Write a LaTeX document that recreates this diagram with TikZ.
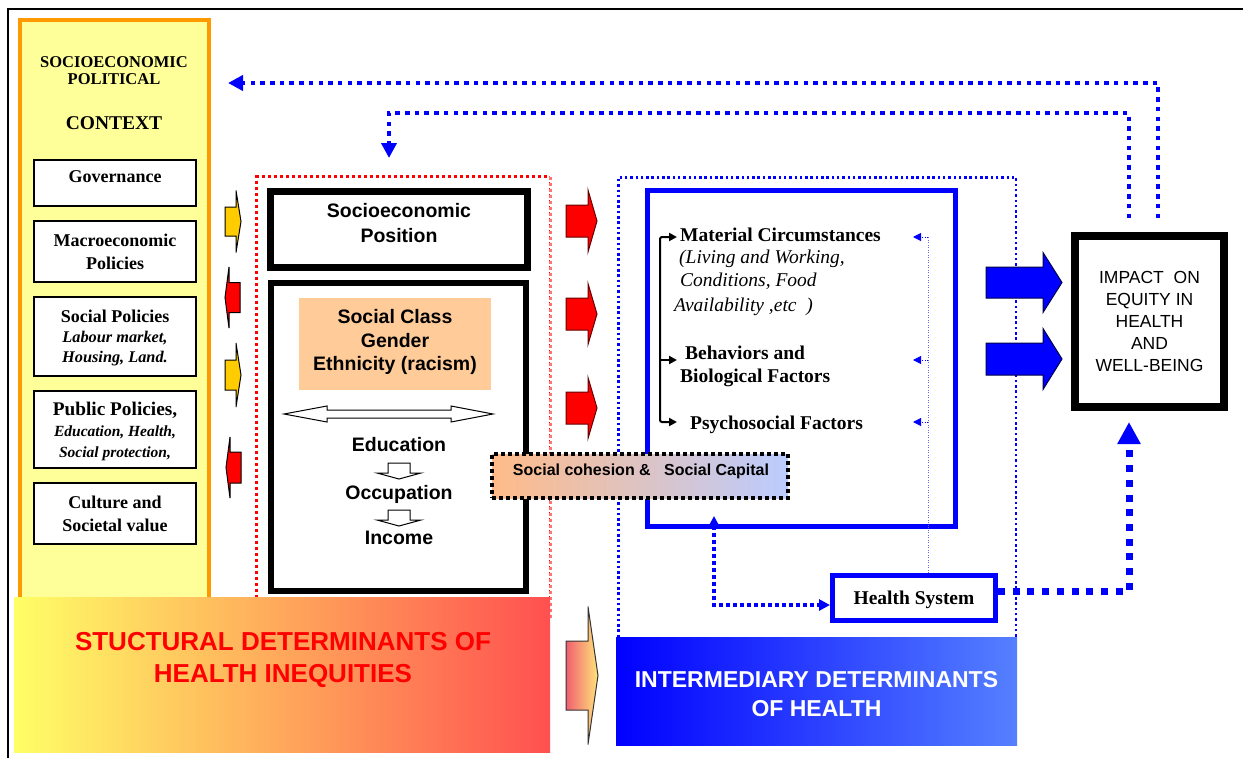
\documentclass[tikz,border=0pt]{standalone}
\usepackage{fontspec}
\setmainfont{Liberation Serif}
\newfontfamily\ari{Liberation Sans}
\usetikzlibrary{arrows.meta,calc}

\definecolor{ctxyellow}{HTML}{FFFF99}
\definecolor{ctxorange}{HTML}{FF9900}
\definecolor{arrowyellow}{HTML}{FFCC00}
\definecolor{peach}{HTML}{FFCC99}
\definecolor{strleft}{HTML}{FFFF66}
\definecolor{strright}{HTML}{FF5050}
\definecolor{intleft}{HTML}{0000FF}
\definecolor{intright}{HTML}{5580FF}
\definecolor{cohleft}{HTML}{FFBB88}
\definecolor{cohright}{HTML}{BBCCFF}
\definecolor{garrleft}{HTML}{F06070}
\definecolor{garrright}{HTML}{FFE47A}

\newcommand\fs[2]{\fontsize{#1}{#2}\selectfont}
% block arrow: [style]{x0}{x head base}{x tip}{y centre}{half body}{half head}
\newcommand\blkarrow[7][]{%
  \draw[#1] (#2,#5-#6) -- (#3,#5-#6) -- (#3,#5-#7) -- (#4,#5) -- (#3,#5+#7) -- (#3,#5+#6) -- (#2,#5+#6) -- cycle;}

\tikzset{
  ctxbox/.style={draw=black, line width=1.5pt, fill=white, minimum width=162pt, inner sep=0pt,
    align=center, text depth=0pt, font=\bfseries\fs{18}{21}},
  ctxtxt/.style={align=center, text depth=0pt, inner sep=0pt, font=\bfseries\fs{18}{21}},
  thickbox/.style={draw=black, line width=7pt, fill=white, inner sep=0pt},
  sanstxt/.style={align=center, font=\ari\bfseries\fs{19.5}{24}, text depth=0pt, inner sep=0pt},
  mattxt/.style={anchor=base west, inner sep=0pt, font=\bfseries\fs{19.5}{23}},
  matit/.style={anchor=base west, inner sep=0pt, font=\itshape\fs{19.5}{23}},
  ylarrow/.style={fill=arrowyellow, draw=black, line width=1pt},
  rdsarrow/.style={fill=red, draw=black, line width=1pt},
  redarrow/.style={fill=red, draw=black!60!red, line width=1pt},
  bluearrow/.style={fill=blue, draw=black!70!blue, line width=1pt},
  gradarrow/.style={left color=garrleft, right color=garrright, draw=black!80, line width=1pt},
  fbdot/.style={draw=blue, line width=4pt, dash pattern=on 4.5pt off 5.2pt},
  bigdot/.style={draw=blue, line width=7pt, dash pattern=on 7pt off 7.7pt},
  meddot/.style={draw=blue, line width=3.5pt, dash pattern=on 3.5pt off 3.5pt},
  thindot/.style={draw=blue!60, line width=1pt, dash pattern=on 1pt off 1.5pt},
  brk/.style={draw=black, line width=2pt},
  hollow/.style={fill=white, draw=black, line width=1pt}
}

\begin{document}
\begin{tikzpicture}[x=1pt,y=-1pt]
\useasboundingbox (0,0) rectangle (1243,758);
\fill[white] (0,0) rectangle (1243,758);

% outer frame
\draw[line width=2pt] (8,758) -- (8,9) -- (1243,9);

% context column
\node[draw=ctxorange, line width=4pt, fill=ctxyellow, minimum width=189pt, minimum height=590pt, inner sep=0pt] (ctx) at (114.5,315) {};
\node[ctxtxt, font=\bfseries\fs{16.5}{17}] (ctxt1) at (114,71) {SOCIOECONOMIC\\POLITICAL};
\node[ctxtxt, font=\bfseries\fs{19.5}{20}] (ctxt2) at (114,123) {CONTEXT};

\node[ctxbox, minimum height=46pt] (gov) at (115,183) {};
\node[ctxtxt] (govtxt) at (115,177) {Governance};
\node[ctxbox, minimum height=61pt, font=\bfseries\fs{18}{23}] (macro) at (115,251.5) {Macroeconomic\\Policies};
\node[ctxbox, minimum height=79pt, font=\bfseries\itshape\fs{16.3}{20}] (socpol) at (115,336.5)
  {{\upshape\fs{18}{20}Social Policies}\\Labour market,\\Housing, Land.};
\node[ctxbox, minimum height=77pt, font=\bfseries\itshape\fs{15.5}{21}] (pubpol) at (115,429.5)
  {{\upshape\fs{19.3}{21}Public Policies,}\\Education, Health,\\Social protection,};
\node[ctxbox, minimum height=61pt, font=\bfseries\fs{18}{23}] (cult) at (115,513.5) {Culture and\\Societal value};

% small arrows between context and structural block
\blkarrow[ylarrow]{225}{236}{241}{221.5}{14.5}{31}
\blkarrow[rdsarrow]{240}{229}{225}{297.5}{15}{30.5}
\blkarrow[ylarrow]{225}{236}{241}{375}{15}{32}
\blkarrow[rdsarrow]{241}{230}{226}{467.5}{15.5}{30.5}

% structural (socioeconomic position) block
\node[draw=red, line width=3pt, dash pattern=on 3pt off 3pt, minimum width=294pt, minimum height=440pt, inner sep=0pt] (sbox) at (403.5,396.5) {};
\draw[white, line width=3.5pt] (sbox.north east) -- (sbox.south east);
\draw[red!55, line width=3pt, dash pattern=on 3pt off 3pt] ($(sbox.north east)+(-1.5,1.5)$) -- ($(sbox.south east)+(-1.5,0)$);
\node[thickbox, minimum width=257pt, minimum height=76pt] (sep) at (399,229.5) {};
\node[sanstxt, font=\ari\bfseries\fs{19.5}{25}] (septxt) at (399,223) {Socioeconomic\\Position};
\node[thickbox, line width=6pt, minimum width=255pt, minimum height=308pt] (spos) at (398.5,437) {};
\node[fill=peach, minimum width=192pt, minimum height=92pt, inner sep=0pt] (scg) at (395,344) {};
\node[sanstxt, font=\ari\bfseries\fs{19.5}{23.5}] (scgtxt) at (395,340) {Social Class\\Gender\\Ethnicity (racism)};
\draw[hollow] (284,414) -- (327,406) -- (327,410) -- (451,410) -- (451,406) -- (493,414)
  -- (451,422) -- (451,418) -- (327,418) -- (327,422) -- cycle;
\node[sanstxt] (edu) at (399,444) {Education};
\node[sanstxt] (occ) at (399,492) {Occupation};
\node[sanstxt] (inc) at (399,538) {Income};
\draw[hollow] (388,463) -- (410,463) -- (410,473) -- (421,473) -- (399,479) -- (377,473) -- (388,473) -- cycle;
\draw[hollow] (388,510) -- (410,510) -- (410,520) -- (421,520) -- (399,526) -- (377,520) -- (388,520) -- cycle;

% red arrows to intermediary block
\blkarrow[redarrow]{566}{588}{597}{221}{16}{31}
\blkarrow[redarrow]{566}{588}{597}{314}{16}{30.5}
\blkarrow[redarrow]{566}{588}{597}{408}{16}{30.5}

% intermediary block
\node[draw=blue, line width=2.5pt, dash pattern=on 2.5pt off 2.8pt, minimum width=397.5pt, minimum height=470pt, inner sep=0pt] (ibox) at (817.25,412.25) {};
\node[draw=blue, line width=5pt, minimum width=308pt, minimum height=336pt, inner sep=0pt] (mbox) at (801.5,358.5) {};
\node[mattxt] (mat) at (680,241) {Material Circumstances};
\node[matit] (liv) at (679,263) {(Living and Working,};
\node[matit] (cond) at (680,286) {Conditions, Food};
\node[matit] (avail) at (674,311) {Availability ,etc\ \ )};
\node[mattxt] (beh) at (685,359) {Behaviors and};
\node[mattxt] (bio) at (680,382) {Biological Factors};
\node[mattxt] (psy) at (690,429) {Psychosocial Factors};

\coordinate (mattip) at (677,237);
\coordinate (behtip) at (677,360);
\coordinate (psytip) at (677,422);
\coordinate (brm) at (660,360);
\coordinate (brb) at (660,422);
\draw[brk, {Triangle[width=8pt,length=8pt]}-{Triangle[width=8pt,length=8pt]}, rounded corners=2pt] (mattip) -| (brb) -- (psytip);
\draw[brk, -{Triangle[width=8pt,length=8pt]}] (brm) -- (behtip);

\node[draw=blue, line width=5pt, minimum width=163pt, minimum height=45pt, inner sep=0pt, fill=white,
  font=\bfseries\fs{19.5}{22}, text depth=0pt] (hs) at (914,598) {Health System};

% thin feedback line from health system
\coordinate (hsline) at ($(hs.north)+(14,0)$);
\coordinate (fb1) at (928,237);
\coordinate (fb2) at (928,360);
\coordinate (fb3) at (928,422);
\draw[thindot] (hsline) -- (fb1);
\draw[thindot, -{Triangle[width=8pt,length=8pt]}, blue] (fb1) -- ++(-15,0);
\draw[thindot, -{Triangle[width=8pt,length=8pt]}, blue] (fb2) -- ++(-15,0);
\draw[thindot, -{Triangle[width=8pt,length=8pt]}, blue] (fb3) -- ++(-15,0);

% blue box <-> health system
\coordinate (hsin) at ($(hs.west)+(0,7)$);
\coordinate (mboxup) at (714,516);
\draw[meddot, {Triangle[width=11pt,length=11pt]}-{Triangle[width=11pt,length=11pt]}] (mboxup) |- (hsin);

% impact box and big arrows
\blkarrow[bluearrow]{986}{1043}{1062}{282.5}{15.5}{30}
\blkarrow[bluearrow]{986}{1043}{1062}{359}{16}{30.5}
\node[draw=black, line width=8pt, fill=white, minimum width=149pt, minimum height=171pt, inner sep=0pt,
  align=center, font=\ari\fs{17.5}{22}, text depth=0pt] (impact) at (1149.5,321.5)
  {IMPACT\ \ ON\\EQUITY IN\\HEALTH\\AND\\WELL-BEING};

% health system -> impact
\coordinate (hsout) at ($(hs.east)+(0,-7)$);
\coordinate (impin) at ($(impact.south)+(-20.5,11)$);
\draw[bigdot, -{Triangle[width=22pt,length=22pt]}] (hsout) -| (impin);

% feedback loops at top
\coordinate (fbo) at ($(impact.north)+(8.5,-14)$);
\coordinate (fbi) at ($(impact.north)+(-20.5,-14)$);
\coordinate (ctxtip) at (228,83);
\coordinate (septip) at (389,158);
\draw[fbdot, -{Triangle[width=15pt,length=15pt]}] (fbo) |- (ctxtip);
\draw[fbdot, -{Triangle[width=15pt,length=15pt]}] (fbi) |- ($(septip)+(0,-45)$) -- (septip);

% social cohesion
\node[draw=black, line width=4pt, dash pattern=on 4pt off 3pt, left color=cohleft, right color=cohright,
  minimum width=296pt, minimum height=44pt, inner sep=0pt] (coh) at (640,476) {};
\node[font=\ari\bfseries\fs{16}{18}, text depth=0pt, inner sep=0pt] (cohtxt) at (641,470) {Social cohesion \&\ \ \ Social Capital};

% bottom banners
\node[left color=strleft, right color=strright, minimum width=536pt, minimum height=155pt, inner sep=0pt] (struct) at (282,674.5) {};
\node[font=\ari\bfseries\fs{26}{32}, text=red, align=center, text depth=0pt, inner sep=0pt] (structtxt) at (283,657)
  {STUCTURAL DETERMINANTS OF\\HEALTH INEQUITIES};
\blkarrow[gradarrow]{566}{588}{598}{675.5}{34.5}{69}
\node[left color=intleft, right color=intright, minimum width=401pt, minimum height=108pt, inner sep=0pt] (inter) at (816.5,691) {};
\node[font=\ari\bfseries\fs{23}{29}, text=white, align=center, text depth=0pt, inner sep=0pt] (intertxt) at (816.5,693.5)
  {INTERMEDIARY DETERMINANTS\\OF HEALTH};
\end{tikzpicture}
\end{document}
